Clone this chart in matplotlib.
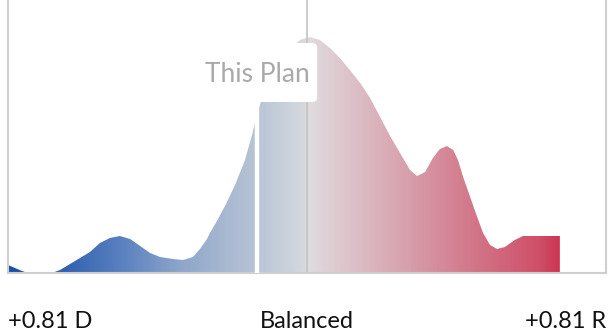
import matplotlib
matplotlib.use("Agg")
import matplotlib.pyplot as plt
import numpy as np
from matplotlib.colors import LinearSegmentedColormap
from matplotlib.patches import FancyBboxPatch, Polygon

# ---- data ----
lean = [-0.810, -0.791, -0.772, -0.756, -0.691, -0.669, -0.642, -0.615, -0.588,
        -0.561, -0.534, -0.507, -0.479, -0.452, -0.425, -0.398, -0.363, -0.336,
        -0.309, -0.290, -0.271, -0.263, -0.244, -0.222, -0.195, -0.168, -0.149,
        -0.138, -0.122, -0.100, -0.060, -0.019, 0.008, 0.035, 0.062, 0.089,
        0.116, 0.144, 0.171, 0.198, 0.225, 0.252, 0.279, 0.298, 0.320, 0.341,
        0.360, 0.379, 0.396, 0.409, 0.423, 0.442, 0.461, 0.477, 0.496, 0.515,
        0.536, 0.563, 0.585, 0.685]
density = [0.08, 0.05, 0.02, 0.00, 0.00, 0.03, 0.09, 0.15, 0.21,
           0.30, 0.35, 0.37, 0.34, 0.27, 0.20, 0.16, 0.14, 0.13,
           0.16, 0.24, 0.34, 0.40, 0.52, 0.67, 0.88, 1.13, 1.38,
           1.55, 1.75, 1.95, 2.20, 2.33, 2.36, 2.33, 2.25, 2.15,
           2.03, 1.90, 1.75, 1.56, 1.37, 1.20, 1.03, 0.97, 1.01, 1.15,
           1.24, 1.27, 1.23, 1.13, 0.96, 0.76, 0.56, 0.40, 0.28, 0.24,
           0.26, 0.33, 0.37, 0.37]
plan_lean = -0.135
plan_label = "This Plan"
tick_labels = ["+0.81 D", "Balanced", "+0.81 R"]
x_min, x_max = -0.81, 0.81
y_max = 2.73

# gradient stops (position along axis, colour)
grad_stops = [(0.0, "#1c4fa6"), (0.087, "#2f60b0"), (0.187, "#5a80bf"),
              (0.288, "#8ea6cb"), (0.405, "#b5c2d4"), (0.488, "#d2d7de"),
              (0.505, "#e0dbde"), (0.589, "#dcbcc4"), (0.689, "#d698a6"),
              (0.789, "#d27386"), (0.890, "#cf4f68"), (0.923, "#cc3754"),
              (1.0, "#c82a48")]
cmap = LinearSegmentedColormap.from_list("lean", grad_stops)

plt.rcParams['font.family'] = ['Lato', 'DejaVu Sans']

fig = plt.figure(figsize=(6.08, 3.33), dpi=100)
ax = fig.add_axes([8/608, 60/333, 598/608, 273/333])
ax.set_xlim(x_min, x_max)
ax.set_ylim(0, y_max)

# area with gradient
xs = np.array(lean)
ys = np.array(density)
verts = np.column_stack([np.r_[xs, xs[-1], xs[0]], np.r_[ys, 0, 0]])
poly = Polygon(verts, closed=True, facecolor='none', edgecolor='none')
ax.add_patch(poly)
grad = np.linspace(0, 1, 600).reshape(1, -1)
im = ax.imshow(grad, cmap=cmap, aspect='auto', extent=[x_min, x_max, 0, y_max],
               origin='lower', zorder=1, interpolation='bilinear')
im.set_clip_path(poly)

# balanced line
ax.axvline(0, color='#c4c4c4', lw=1.2, zorder=2)

# plan marker (white gap)
box_bottom, box_top = 1.71, 2.30
ax.plot([plan_lean, plan_lean], [0, box_bottom], color='white', lw=3.2,
        zorder=3, solid_capstyle='butt')

# label box
half_w = 0.1625
px_x = (x_max - x_min) / 598
px_y = y_max / 273
box = FancyBboxPatch((plan_lean - half_w, box_bottom), 2 * half_w, box_top - box_bottom,
                     boxstyle=f"round,pad=0,rounding_size={5*px_x}",
                     mutation_aspect=px_y / px_x,
                     facecolor='white', edgecolor='none', zorder=4)
ax.add_patch(box)
ax.text(plan_lean, 1.91, plan_label, ha='center', va='baseline', fontsize=19,
        color='#a9a9a9', zorder=5)

# spines
for s in ['left', 'bottom', 'right']:
    ax.spines[s].set_color('#cfcfcf')
    ax.spines[s].set_linewidth(1.5)
ax.spines['top'].set_visible(False)
ax.set_xticks([])
ax.set_yticks([])

# axis labels
lab_y = -55 / 273 * y_max
for xpos, txt, ha in [(x_min, tick_labels[0], 'left'), (0, tick_labels[1], 'center'),
                      (x_max, tick_labels[2], 'right')]:
    ax.text(xpos, lab_y, txt, ha=ha, va='baseline', fontsize=17, color='#111111')

fig.savefig("out.png", dpi=100)
